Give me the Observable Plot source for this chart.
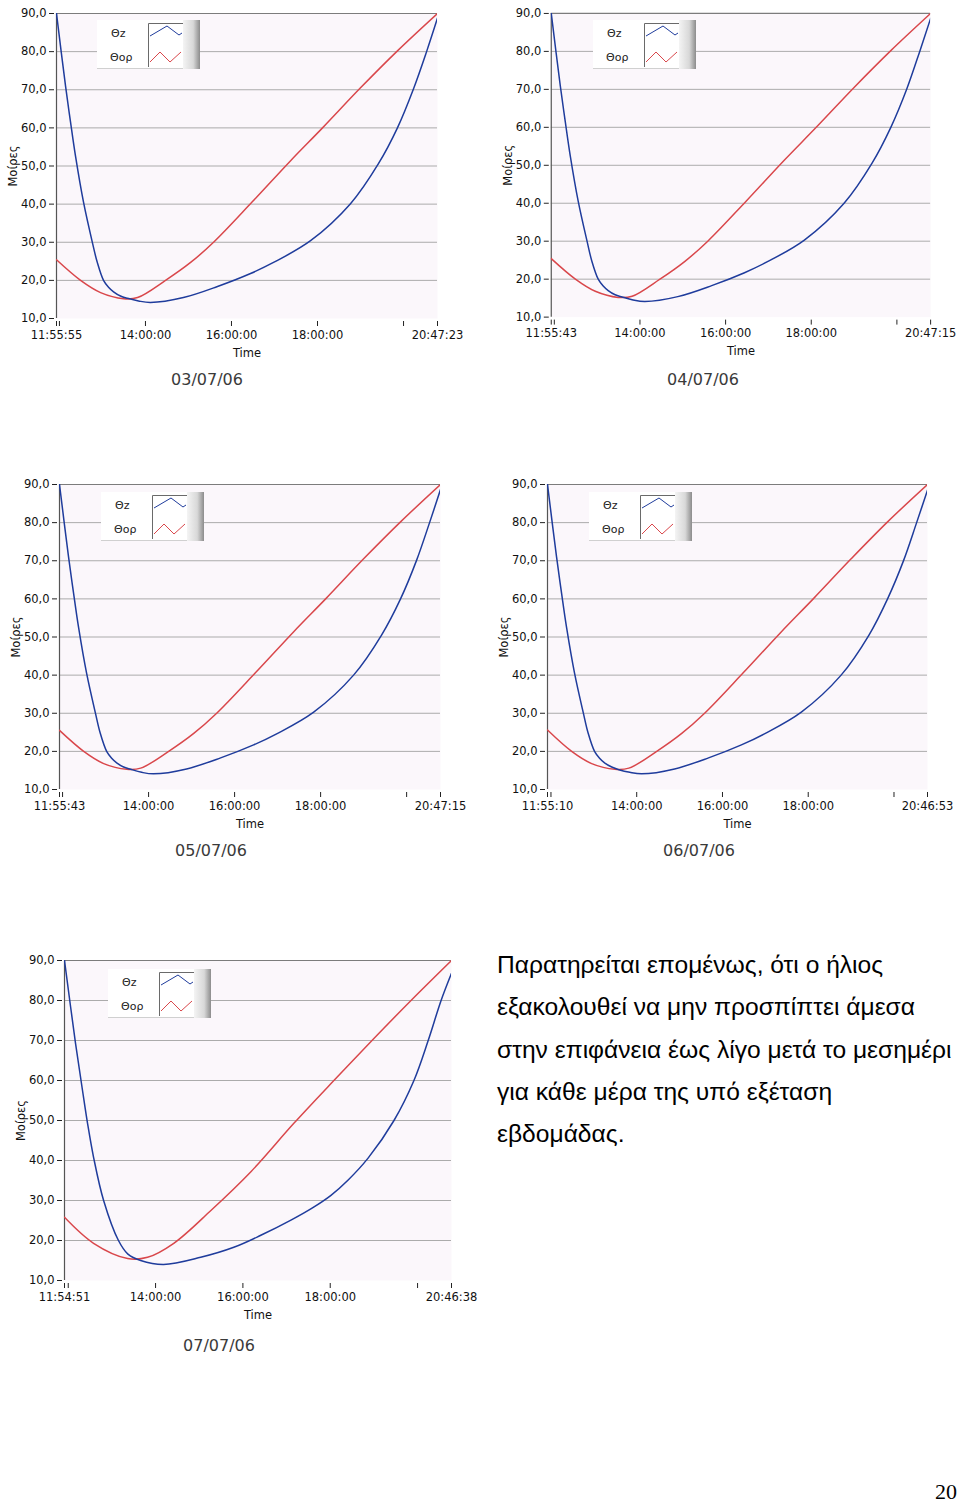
<!DOCTYPE html>
<html>
<head>
<meta charset="utf-8">
<script src="https://cdn.jsdelivr.net/npm/d3@7"></script>
<script src="https://cdn.jsdelivr.net/npm/@observablehq/plot@0.6"></script>
<style>
  html, body { margin: 0; padding: 0; background: #fff; }
  body { width: 960px; height: 1503px; position: relative; overflow: hidden; font-family: "DejaVu Sans", sans-serif; }
  .chart { position: absolute; }
  .chart svg { overflow: visible; }
  .date { position: absolute; font-family: "DejaVu Sans", sans-serif; font-size: 16px; color: #3a3a3a; transform: translate(-50%, -50%); white-space: nowrap; }
  .legend { position: absolute; }
  .para { position: absolute; left: 497px; top: 944px; font-family: "Liberation Sans", Arial, sans-serif; font-size: 24.6px; line-height: 42.3px; color: #000; white-space: nowrap; }
  .pageno { position: absolute; right: 3px; top: 1479px; font-family: "Liberation Serif", "Times New Roman", serif; font-size: 22px; color: #000; }
</style>
</head>
<body>
<script>
// ---------------- DATA ----------------
const dates = ["03/07/06", "04/07/06", "05/07/06", "06/07/06", "07/07/06"];
const startTimes = ["11:55:55", "11:55:43", "11:55:43", "11:55:10", "11:54:51"];
const endTimes   = ["20:47:23", "20:47:15", "20:47:15", "20:46:53", "20:46:38"];
const yTicks = [10, 20, 30, 40, 50, 60, 70, 80, 90];
const xTickTimes = ["12:00:00", "14:00:00", "16:00:00", "18:00:00", "20:00:00"];
const xLabeledTimes = ["14:00:00", "16:00:00", "18:00:00"];
const seriesNames = ["Θz", "Θορ"];

// Θz (blue) and Θορ (red), [time, degrees]
const thetaZ_0307 = [["11:55:55",90],["12:08:30",71],["12:15:30",61.5],["12:22:30",52.5],["12:33:36",40.5],["12:46:00",29.9],["12:52:40",24.8],["13:01:30",20],["13:08:30",18.2],["13:15:30",17],["13:25:10",15.9],["13:35:00",15.3],["13:50:20",14.6],["14:07:00",14.2],["14:53:00",15.5],["15:40:30",18.4],["16:26:36",21.8],["16:58:40",24.7],["17:50:20",30.4],["18:46:00",40.1],["19:25:00",50.6],["19:51:30",60],["20:13:50",70.2],["20:32:10",80],["20:47:23",88.8]];
const thetaOp_0307 = [["11:55:55",25.4],["12:29:30",20],["12:57:24",16.8],["13:29:30",15.2],["13:49:00",15.5],["14:28:00",20],["15:03:00",24.7],["15:35:00",30],["16:29:00",40.6],["17:22:30",51.4],["18:07:00",60],["19:00:00",70.5],["19:51:30",80.2],["20:47:23",90]];

const thetaZ_0407 = [["11:55:43",90],["12:08:20",71],["12:15:20",61.5],["12:22:20",52.5],["12:33:30",40.5],["12:46:00",29.9],["12:52:30",24.8],["13:01:30",20],["13:08:30",18.2],["13:15:30",17],["13:25:10",15.9],["13:35:00",15.3],["13:50:20",14.5],["14:07:00",14.1],["14:53:00",15.4],["15:40:30",18.3],["16:26:30",21.7],["16:58:40",24.6],["17:50:20",30.3],["18:46:00",40],["19:25:00",50.5],["19:51:30",60],["20:13:50",70.1],["20:32:00",80],["20:47:15",88.7]];
const thetaOp_0407 = [["11:55:43",25.4],["12:29:30",20],["12:57:24",16.8],["13:29:30",15.2],["13:49:00",15.5],["14:28:00",20],["15:03:00",24.7],["15:35:00",30],["16:29:00",40.6],["17:22:30",51.4],["18:07:00",60],["19:00:00",70.5],["19:51:30",80.2],["20:47:15",90]];

const thetaZ_0507 = [["11:55:43",90],["12:08:20",71],["12:15:20",61.5],["12:22:20",52.5],["12:33:30",40.5],["12:46:00",29.9],["12:52:30",24.8],["13:01:30",20],["13:08:30",18.2],["13:15:30",17],["13:25:10",15.9],["13:35:00",15.3],["13:50:20",14.5],["14:07:00",14.1],["14:53:00",15.4],["15:40:30",18.3],["16:26:30",21.7],["16:58:40",24.6],["17:50:20",30.3],["18:46:00",40],["19:25:00",50.5],["19:51:30",60],["20:13:50",70.1],["20:32:00",80],["20:47:15",88.7]];
const thetaOp_0507 = [["11:55:43",25.5],["12:29:30",20],["12:57:24",16.8],["13:29:30",15.3],["13:49:00",15.6],["14:28:00",20],["15:03:00",24.7],["15:35:00",30],["16:29:00",40.6],["17:22:30",51.4],["18:07:00",60],["19:00:00",70.5],["19:51:30",80.2],["20:47:15",90]];

const thetaZ_0607 = [["11:55:10",90],["12:07:50",71],["12:14:50",61.5],["12:21:50",52.5],["12:33:00",40.5],["12:45:30",29.9],["12:52:00",24.8],["13:01:00",20],["13:08:00",18.2],["13:15:00",17],["13:25:00",15.9],["13:35:00",15.2],["13:50:20",14.5],["14:07:00",14.1],["14:53:00",15.4],["15:40:30",18.3],["16:26:30",21.7],["16:58:40",24.6],["17:50:20",30.3],["18:46:00",40],["19:25:00",50.5],["19:51:00",60],["20:13:30",70.1],["20:31:40",80],["20:46:53",88.5]];
const thetaOp_0607 = [["11:55:10",25.6],["12:29:00",20],["12:57:00",16.8],["13:29:30",15.3],["13:49:00",15.6],["14:28:00",20],["15:03:00",24.7],["15:35:00",30],["16:29:00",40.6],["17:22:30",51.4],["18:07:00",60],["19:00:00",70.5],["19:51:00",80.2],["20:46:53",90]];

const thetaZ_0707 = [["11:54:51",90],["12:10:00",69.3],["12:19:36",57.5],["12:26:30",49.3],["12:34:48",40.8],["12:48:36",30],["13:09:00",20],["13:22:00",16.6],["13:39:30",15],["14:11:00",14],["15:02:00",15.8],["15:47:30",18.3],["16:24:36",21.3],["17:06:00",25.1],["17:35:00",28.1],["18:01:00",31.3],["18:25:00",35.2],["18:52:00",40.6],["19:27:36",50],["19:55:00",60],["20:14:36",70],["20:32:20",80],["20:46:38",86.8]];
const thetaOp_0707 = [["11:54:51",25.8],["12:34:48",19.3],["13:21:36",15.5],["13:49:00",15.8],["14:25:00",19.3],["15:16:00",27.5],["16:11:00",37.2],["17:10:00",49.3],["18:05:00",60],["19:00:00",70.5],["19:51:00",80],["20:46:38",90]];

const zSeries = [thetaZ_0307, thetaZ_0407, thetaZ_0507, thetaZ_0607, thetaZ_0707];
const opSeries = [thetaOp_0307, thetaOp_0407, thetaOp_0507, thetaOp_0607, thetaOp_0707];

const paragraph = [
  "Παρατηρείται επομένως, ότι ο ήλιος",
  "εξακολουθεί να μην προσπίπτει άμεσα",
  "στην επιφάνεια έως λίγο μετά το μεσημέρι",
  "για κάθε μέρα της υπό εξέταση",
  "εβδομάδας."
];
const pageNumber = "20";

// ---------------- LAYOUT (positions only) ----------------
const layout = [
  {axisX: 56,  plotTop: 13,  plotW: 381, plotH: 305, dateX: 207, dateY: 379, legX: 97,  legY: 20},
  {axisX: 551, plotTop: 13,  plotW: 381, plotH: 305, dateX: 703, dateY: 379, legX: 593, legY: 20},
  {axisX: 59,  plotTop: 484, plotW: 381, plotH: 305, dateX: 211, dateY: 850, legX: 101, legY: 492},
  {axisX: 547, plotTop: 484, plotW: 380, plotH: 305, dateX: 699, dateY: 850, legX: 589, legY: 492},
  {axisX: 64,  plotTop: 960, plotW: 387, plotH: 320, dateX: 219, dateY: 1345, legX: 108, legY: 969}
];

const BLUE = "#1f3c9c";
const RED = "#d9474b";

const toH = s => { const [H, M, S] = s.split(":").map(Number); return H + M / 60 + (S || 0) / 3600; };
const fmtY = d => d.toFixed(1).replace(".", ",");

function drawChart(i) {
  const L = layout[i];
  const mL = 56, mT = 13, mR = 30, mB = 47;
  const t0 = toH(startTimes[i]), t1 = toH(endTimes[i]);
  const labels = new Map();
  labels.set(t0, startTimes[i]);
  labels.set(t1, endTimes[i]);
  xLabeledTimes.forEach(s => labels.set(toH(s), s));
  const ticks = [t0, ...xTickTimes.map(toH), t1];
  const z = zSeries[i].map(([t, v]) => ({t: toH(t), v}));
  const op = opSeries[i].map(([t, v]) => ({t: toH(t), v}));

  const svg = Plot.plot({
    width: mL + L.plotW + mR,
    height: mT + L.plotH + mB,
    marginLeft: mL, marginTop: mT, marginRight: mR, marginBottom: mB,
    style: {fontFamily: "DejaVu Sans, sans-serif", fontSize: "11.5px", color: "#111", background: "transparent", overflow: "visible"},
    x: {domain: [t0, t1]},
    y: {domain: [10, 90]},
    marks: [
      Plot.frame({fill: "#fbf7fb", stroke: null}),
      Plot.ruleY(yTicks.filter(d => d > 10 && d < 90), {stroke: "#ababab", strokeWidth: 1}),
      Plot.ruleY([90], {stroke: "#7c7c7c", strokeWidth: 1.2}),
      Plot.ruleX([t0], {stroke: "#555", strokeWidth: 1.2}),
      Plot.axisY({ticks: yTicks, tickFormat: fmtY, tickSize: 5, tickPadding: 3, dx: -2, stroke: "#222",
        label: "Μοίρες", labelAnchor: "center", labelArrow: "none", labelOffset: 48}),
      Plot.axisX({ticks, tickFormat: d => labels.get(d) || "", tickSize: 5, tickPadding: 4, dy: 3, stroke: "#222",
        label: "Time", labelAnchor: "center", labelArrow: "none", labelOffset: 38}),
      Plot.line(op, {x: "t", y: "v", stroke: RED, strokeWidth: 1.5, curve: "catmull-rom", clip: true}),
      Plot.line(z, {x: "t", y: "v", stroke: BLUE, strokeWidth: 1.5, curve: "catmull-rom", clip: true})
    ]
  });
  const div = document.createElement("div");
  div.className = "chart";
  div.style.left = (L.axisX - mL) + "px";
  div.style.top = (L.plotTop - mT) + "px";
  div.appendChild(svg);
  document.body.appendChild(div);

  // date caption
  const d = document.createElement("div");
  d.className = "date";
  d.style.left = L.dateX + "px";
  d.style.top = L.dateY + "px";
  d.textContent = dates[i];
  document.body.appendChild(d);

  // legend (LabVIEW-style plot legend)
  const lg = document.createElement("div");
  lg.className = "legend";
  lg.style.left = L.legX + "px";
  lg.style.top = L.legY + "px";
  lg.innerHTML = `
  <svg width="104" height="50" xmlns="http://www.w3.org/2000/svg">
    <defs>
      <linearGradient id="g${i}" x1="0" x2="1" y1="0" y2="0">
        <stop offset="0" stop-color="#f4f4f4"/>
        <stop offset="0.6" stop-color="#d8d8d8"/>
        <stop offset="1" stop-color="#8c8c8c"/>
      </linearGradient>
    </defs>
    <rect x="0" y="0" width="86" height="49" fill="#ffffff"/>
    <line x1="0" y1="48.5" x2="86" y2="48.5" stroke="#d0d0d0"/>
    <rect x="86" y="0" width="17" height="49" fill="url(#g${i})"/>
    <path d="M51.5,47 V3.5 H86" fill="none" stroke="#6a6a6a" stroke-width="1"/>
    <text x="14" y="13" dy="0.35em" font-family="DejaVu Sans, sans-serif" font-size="11" fill="#222">${seriesNames[0]}</text>
    <text x="13" y="37" dy="0.35em" font-family="DejaVu Sans, sans-serif" font-size="11" fill="#222">${seriesNames[1]}</text>
    <polyline points="53,16 70,6 82,15 85,13" fill="none" stroke="${BLUE}" stroke-width="1"/>
    <polyline points="53,42 63,32 73,42 84,32" fill="none" stroke="${RED}" stroke-width="1"/>
  </svg>`;
  document.body.appendChild(lg);
}

for (let i = 0; i < 5; i++) drawChart(i);

const p = document.createElement("div");
p.className = "para";
p.innerHTML = paragraph.map(s => `<div>${s}</div>`).join("");
document.body.appendChild(p);

const pn = document.createElement("div");
pn.className = "pageno";
pn.textContent = pageNumber;
document.body.appendChild(pn);
</script>
</body>
</html>
